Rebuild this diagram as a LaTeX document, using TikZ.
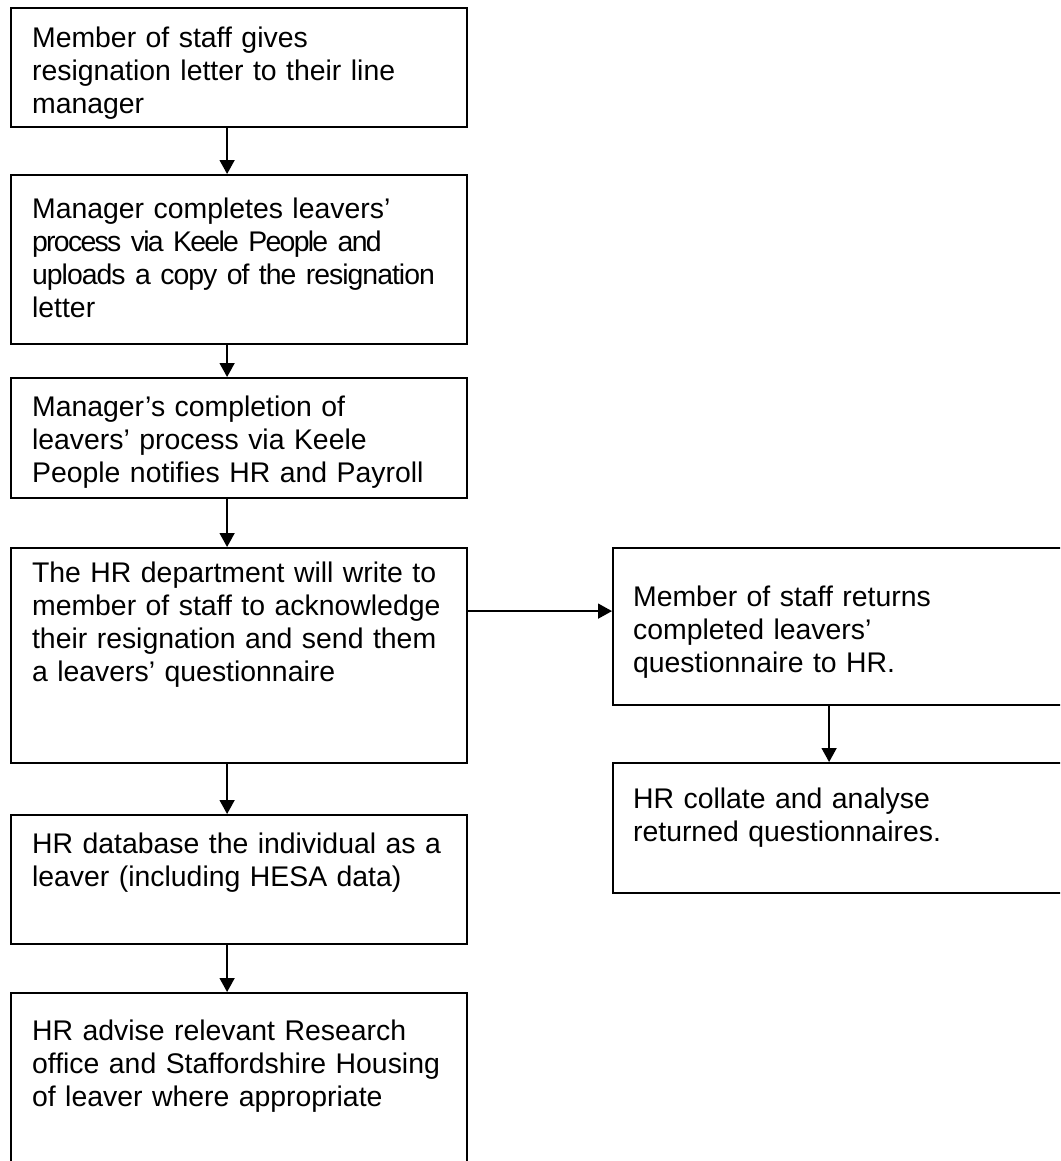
\documentclass[tikz,border=0pt]{standalone}
\usepackage{fontspec}
\setmainfont{Liberation Sans}
\usetikzlibrary{arrows.meta}
\newcommand{\squeeze}[2]{{\addfontfeature{LetterSpace=#1}#2}}

\begin{document}
\begin{tikzpicture}
[every node/.style={inner ysep=0pt, font=\fontsize{14.2pt}{16.4pt}\selectfont},
 stepbox/.style={rectangle, anchor=north west, draw=black, line width=1.1pt, inner xsep=10.5pt, text width=207pt,
   execute at begin node={\hyphenpenalty=10000\rightskip=-40pt plus 1fil}},
 sidebox/.style={stepbox, inner xsep=10pt, text width=206pt},
 flow/.style={line width=0.8pt, color=black, -{Triangle[length=7pt, width=7.5pt]}}]
\useasboundingbox (0pt, 0pt) rectangle (530pt, -580.5pt);
\clip (0pt, 0pt) rectangle (530pt, -580.5pt);
% left column
\node (1) [stepbox, text height=19.75pt, text depth=39.75pt] at (5pt, -3.5pt) {Member of staff gives\\resignation letter to their line\\manager};
\node (2) [stepbox, text height=21.75pt, text depth=62.75pt] at (5pt, -87pt) {Manager completes leavers’\\\squeeze{-6}{process via Keele People and}\\\squeeze{-3.5}{uploads a copy of the resignation}\\letter};
\node (3) [stepbox, text height=19.25pt, text depth=40.75pt] at (5pt, -188.5pt) {Manager’s completion of\\leavers’ process via Keele\\People notifies HR and Payroll};
\node (4) [stepbox, text height=17.25pt, text depth=90.25pt] at (5pt, -273.5pt) {The HR department will write to\\member of staff to acknowledge\\their resignation and send them\\a leavers’ questionnaire};
\node (7) [stepbox, text height=19.25pt, text depth=45.25pt] at (5pt, -407pt) {HR database the individual as a\\leaver (including HESA data)};
\node (8) [stepbox, text height=23.75pt, text depth=70pt] at (5pt, -496pt) {HR advise relevant Research\\office and Staffordshire Housing\\of leaver where appropriate};
% right column
\node (5) [sidebox, text height=29.25pt, text depth=49.25pt] at (306pt, -273.5pt) {Member of staff returns\\completed leavers’\\questionnaire to HR.};
\node (6) [sidebox, text height=22.75pt, text depth=42.25pt] at (306pt, -381pt) {HR collate and analyse\\returned questionnaires.};
\draw [flow] ([xshift=-6pt]1.south) to ([xshift=-6pt]2.north);
\draw [flow] ([xshift=-6pt]2.south) to ([xshift=-6pt]3.north);
\draw [flow] ([xshift=-6pt]3.south) to ([xshift=-6pt]4.north);
\draw [flow] ([xshift=-6pt]4.south) to ([xshift=-6pt]7.north);
\draw [flow] ([xshift=-6pt]7.south) to ([xshift=-6pt]8.north);
\draw [flow] ([yshift=7.75pt]5.west -| 4.east) to ([yshift=7.75pt]5.west);
\draw [flow] ([xshift=-5pt]5.south) to ([xshift=-5pt]6.north);
\end{tikzpicture}
\end{document}
